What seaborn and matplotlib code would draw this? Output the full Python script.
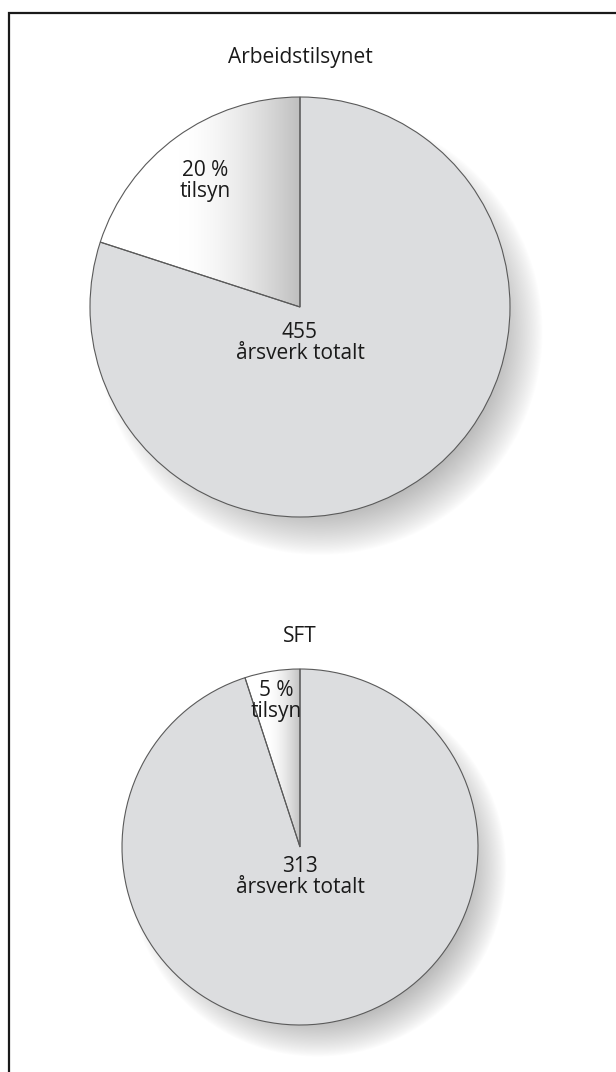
import numpy as np
import matplotlib
matplotlib.use("Agg")
import matplotlib.pyplot as plt
from matplotlib.patches import Rectangle
import seaborn as sns

# data
titles = ["Arbeidstilsynet", "SFT"]
tilsyn_pct = [20, 5]
arsverk_total = [455, 313]

sns.set_theme(style="white")
plt.rcParams["font.family"] = ["Open Sans", "DejaVu Sans"]

W, H = 616, 1072
fig = plt.figure(figsize=(W / 100, H / 100), dpi=100)

# frame, open to the right and bottom
fig.add_artist(Rectangle((8.5 / W, -0.02), 1.0, 1 - 13 / H + 0.02,
                         transform=fig.transFigure, fill=False,
                         edgecolor="#1a1a1a", linewidth=1.6))

# pixel layout: centre x, centre y, radius, title y, label offset of the small slice
layout = [(300, 307, 210, 57, (-0.45, 0.60)),
          (300, 847, 178, 637, (-0.135, 0.82))]

grey = "#dcdddf"
edge = "#5a5a5a"
txt = "#1a1a1a"
pad = 1.3

for title, pct, total, (cx, cy, r, ty, lab) in zip(titles, tilsyn_pct, arsverk_total, layout):
    half = r * pad
    ax = fig.add_axes([(cx - half) / W, 1 - (cy + half) / H, 2 * half / W, 2 * half / H])

    # soft drop shadow toward lower right
    g = np.linspace(-pad, pad, 600)
    X, Y = np.meshgrid(g, g)
    d = np.hypot(X - 0.095, Y + 0.12)
    a = np.clip((1.065 - d) / 0.21, 0, 1) ** 0.85 * 0.27
    shadow = np.zeros((600, 600, 4))
    shadow[..., 3] = a
    ax.imshow(shadow, extent=(-pad, pad, -pad, pad), origin="lower", zorder=0)

    values = [pct, 100 - pct]
    wedges, _ = ax.pie(values, colors=["white", grey], startangle=90,
                       counterclock=True, radius=1,
                       wedgeprops=dict(linewidth=0, zorder=1))

    # grey shading inside the small slice, darker toward the vertical edge
    xmin = np.cos(np.deg2rad(90 + 360 * pct / 100))
    x0 = 0.6 * xmin
    gx = np.linspace(xmin, 0, 300)
    t = np.clip((gx - x0) / (0 - x0), 0, 1) ** 1.6
    shade = 1 - t * (1 - 0.75)
    img = np.repeat(shade[None, :], 2, axis=0)
    rgb = np.stack([img, img, img], axis=-1)
    im = ax.imshow(rgb, extent=(xmin, 0, 0, 1.01), origin="lower",
                   aspect="auto", zorder=2, interpolation="bilinear")
    im.set_clip_path(wedges[0])

    # outlines on top
    ax.pie(values, colors=["none", "none"], startangle=90, counterclock=True,
           radius=1, wedgeprops=dict(edgecolor=edge, linewidth=0.8, zorder=3))

    ax.text(lab[0], lab[1], f"{pct} %\ntilsyn", ha="center", va="center",
            fontsize=15, color=txt, linespacing=1.0, zorder=4)
    ax.text(0, -0.17, f"{total}\nårsverk totalt", ha="center", va="center",
            fontsize=15, color=txt, linespacing=1.0, zorder=4)

    ax.set_xlim(-pad, pad)
    ax.set_ylim(-pad, pad)
    ax.set_aspect("equal")
    ax.axis("off")

    fig.text(cx / W, 1 - ty / H, title, ha="center", va="center",
             fontsize=15, color=txt)

fig.savefig("out.png", dpi=100)
